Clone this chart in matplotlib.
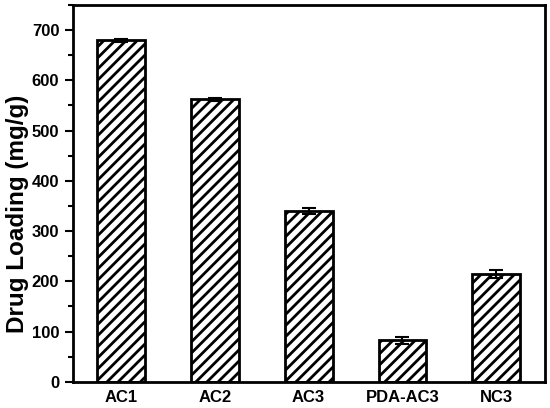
import matplotlib.pyplot as plt
import numpy as np

plt.rcParams['font.family'] = ['Liberation Sans', 'DejaVu Sans']
plt.rcParams['font.weight'] = 'bold'
plt.rcParams['hatch.linewidth'] = 2.0

labels = ['AC1', 'AC2', 'AC3', 'PDA-AC3', 'NC3']
loading = [680, 562, 340, 83, 215]
err = [3, 3, 6, 7, 8]

x = np.arange(1, len(labels) + 1)

fig = plt.figure(figsize=(5.5, 4.08), dpi=100)
ax = fig.add_axes([0.133, 0.064, 0.858, 0.924])

ax.bar(x, loading, width=0.51, color='white', edgecolor='black', linewidth=2,
       hatch='///', yerr=err, capsize=5,
       error_kw=dict(ecolor='black', elinewidth=1.5, capthick=1.5))

ax.set_xlim(0.49, 5.52)
ax.set_ylim(0, 750)
ax.set_yticks(range(0, 701, 100))
ax.set_yticks(range(50, 751, 100), minor=True)
ax.set_xticks(x)
ax.set_xticklabels(labels)
ax.tick_params(axis='x', length=0, labelsize=12, pad=6)
ax.tick_params(axis='y', which='major', length=6, width=1.5, labelsize=12, pad=4)
ax.tick_params(axis='y', which='minor', length=3.5, width=1.5)
for s in ax.spines.values():
    s.set_linewidth(2)
ax.set_ylabel('Drug Loading (mg/g)', fontsize=17.5, fontweight='bold')
ax.yaxis.set_label_coords(-0.093, 0.446)

fig.savefig('out.png')
